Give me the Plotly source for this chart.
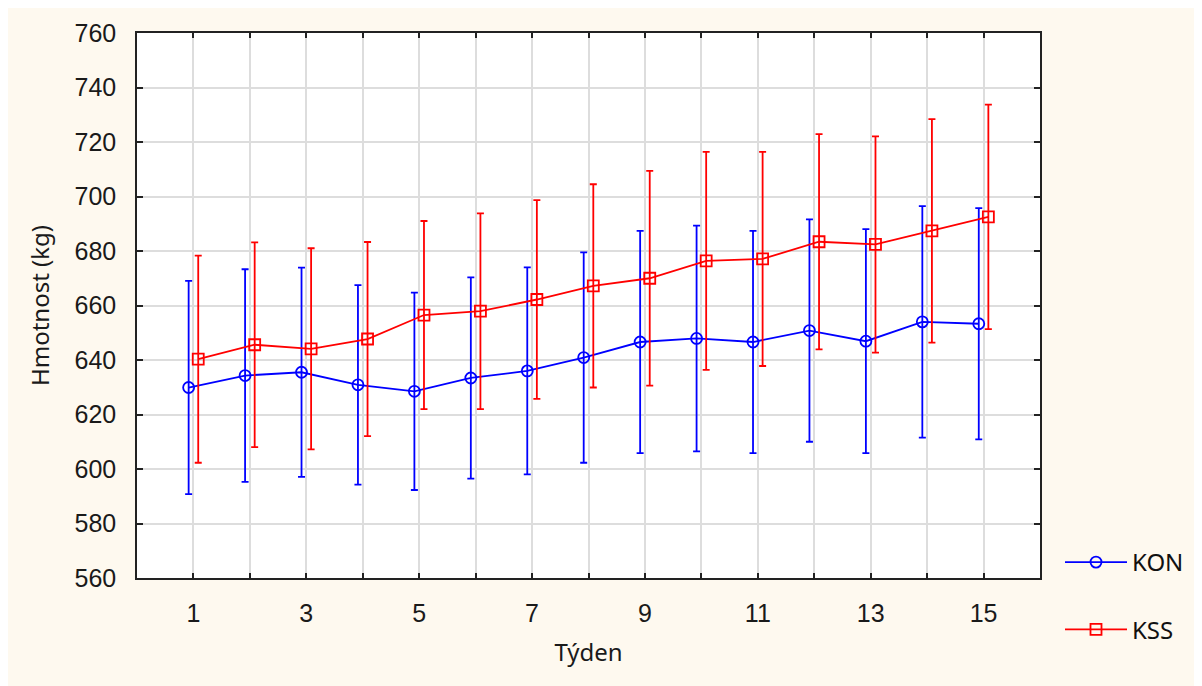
import plotly.graph_objects as go

weeks = list(range(1, 16))
kon_mean = [629.9, 634.3, 635.5, 630.9, 628.5, 633.4, 636.0, 640.9, 646.6, 647.9, 646.6, 650.8, 646.9, 654.0, 653.3]
kon_err = [39.1, 39.0, 38.4, 36.6, 36.2, 36.9, 38.0, 38.6, 40.8, 41.4, 40.8, 40.8, 41.1, 42.5, 42.4]
kss_mean = [640.3, 645.6, 644.1, 647.7, 656.5, 657.9, 662.2, 667.2, 670.0, 676.4, 677.1, 683.4, 682.4, 687.4, 692.5]
kss_err = [38.0, 37.6, 36.9, 35.6, 34.5, 35.9, 36.5, 37.3, 39.4, 40.0, 39.3, 39.5, 39.7, 41.0, 41.2]
x_ticks = list(range(0, 17))
x_ticktext = ["" if (v % 2 == 0) else str(v) for v in x_ticks]
y_ticks = list(range(560, 761, 20))

OFFSET = 0.085
BLUE = "#0000FF"
RED = "#FF0000"
CREAM = "#FEF9EF"

fig = go.Figure()
fig.add_trace(go.Scatter(
    x=[w - OFFSET for w in weeks], y=kon_mean, name="KON", mode="lines+markers",
    line=dict(color=BLUE, width=1.8),
    marker=dict(symbol="circle-open", size=11, color=BLUE, line=dict(width=1.8, color=BLUE)),
    error_y=dict(type="data", array=kon_err, visible=True, color=BLUE, thickness=1.8, width=3.5),
    legendgroup="a",
))
fig.add_trace(go.Scatter(
    x=[w + OFFSET for w in weeks], y=kss_mean, name="KSS", mode="lines+markers",
    line=dict(color=RED, width=1.8),
    marker=dict(symbol="square-open", size=11, color=RED, line=dict(width=1.8, color=RED)),
    error_y=dict(type="data", array=kss_err, visible=True, color=RED, thickness=1.8, width=3.5),
    legendgroup="b",
))

# page has an 8px body margin; figure sized to fill the rest of the window
W, H = 1194, 678
L, R, T, B = 129, 1032, 25, 570
pw, ph = R - L, B - T

def px_x(p):
    return (p - L) / pw

def px_y(p):
    return (B - p) / ph

fig.update_layout(
    width=W, height=H,
    margin=dict(l=L, r=W - R, t=T, b=H - B),
    paper_bgcolor=CREAM, plot_bgcolor="white",
    showlegend=True,
    legend=dict(x=px_x(1052), y=px_y(532), xanchor="left", yanchor="top",
                font=dict(family="Noto Sans", size=24, color="#111111"),
                bgcolor="rgba(0,0,0,0)", tracegroupgap=33, itemwidth=62),
    xaxis=dict(range=[0, 16], tickmode="array", tickvals=x_ticks, ticktext=x_ticktext,
               showgrid=True, gridcolor="#DDDDDD", gridwidth=1.5,
               showline=True, linecolor="#222222", linewidth=1.5, mirror="ticks",
               ticks="inside", ticklen=5, tickcolor="#222222", tickwidth=1.5,
               ticklabelstandoff=12,
               tickfont=dict(family="Liberation Sans", size=25, color="#1a1a1a"),
               title=dict(text="Týden", font=dict(family="Noto Sans", size=24, color="#1a1a1a"), standoff=18),
               zeroline=False),
    yaxis=dict(range=[560, 760], tickmode="array", tickvals=y_ticks,
               showgrid=True, gridcolor="#DDDDDD", gridwidth=1.5,
               showline=True, linecolor="#222222", linewidth=1.5, mirror="ticks",
               ticks="inside", ticklen=6, tickcolor="#222222", tickwidth=1.5,
               ticklabelstandoff=14,
               tickfont=dict(family="Liberation Sans", size=25, color="#1a1a1a"),
               title=dict(text="Hmotnost (kg)", font=dict(family="Noto Sans", size=24, color="#1a1a1a"), standoff=18),
               zeroline=False),
)

fig.write_html("out.html")
